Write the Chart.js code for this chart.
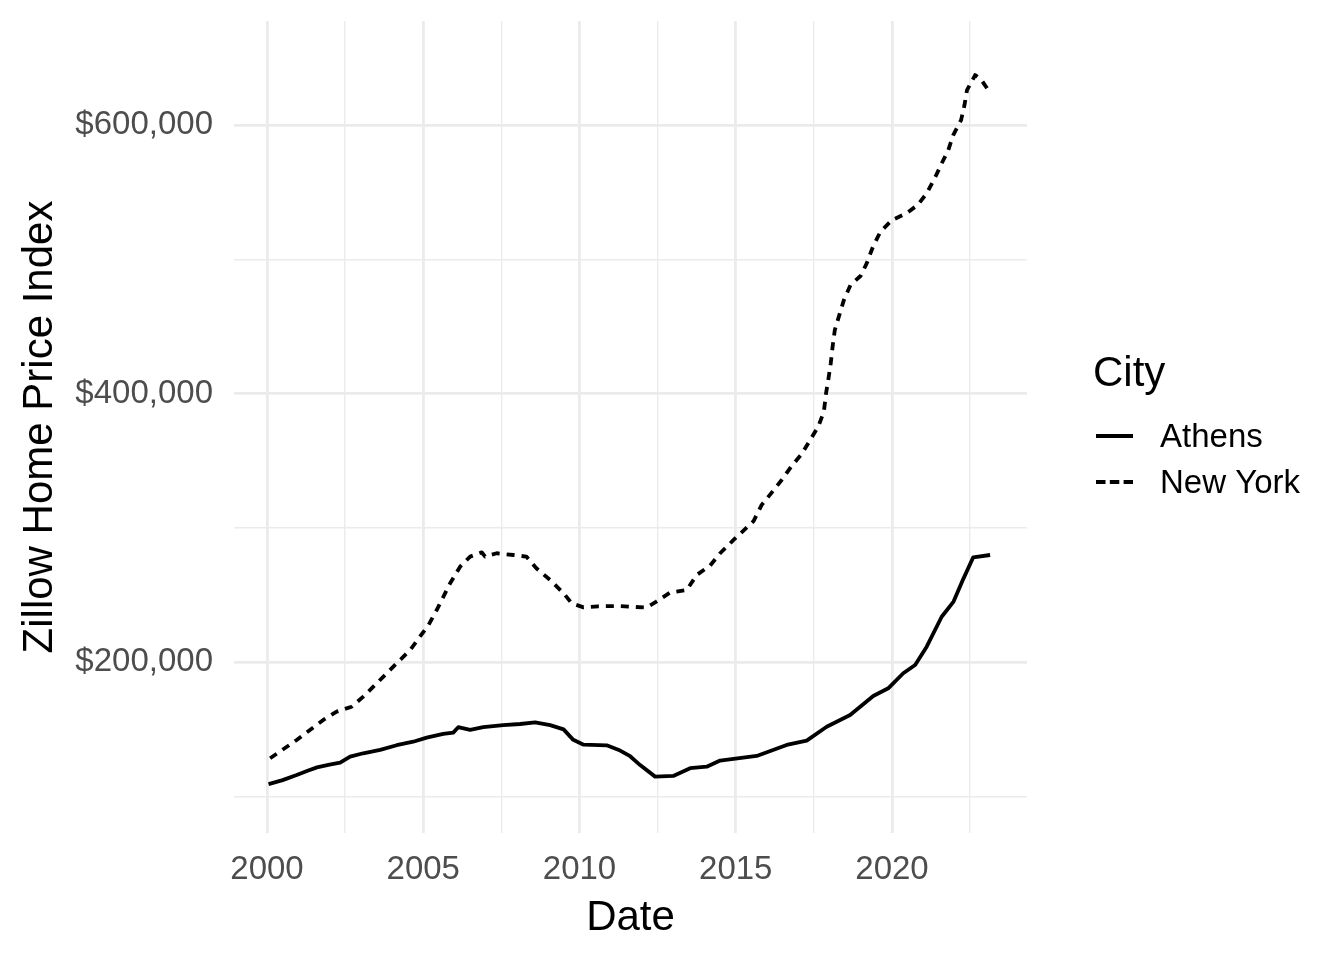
<!DOCTYPE html>
<html>
<head>
<meta charset="utf-8">
<title>Zillow Home Price Index</title>
<script src="https://cdn.jsdelivr.net/npm/chart.js@4.4.1/dist/chart.umd.min.js"></script>
<style>
  html, body { margin: 0; padding: 0; background: #fff; }
  #wrap { width: 1344px; height: 960px; }
</style>
</head>
<body>
<div id="wrap"><canvas id="chart" width="1344" height="960"></canvas></div>
<script>
// Athens (solid line) - decimal year / ZHVI
const athensYears = [
  2000.05, 2000.5, 2000.95, 2001.3, 2001.6, 2002.0, 2002.34, 2002.66, 2003.08, 2003.62,
  2004.15, 2004.68, 2005.11, 2005.64, 2005.96, 2006.12, 2006.5, 2006.92, 2007.56, 2008.1,
  2008.58, 2009.06, 2009.49, 2009.8, 2010.13, 2010.87, 2011.3, 2011.62, 2011.94, 2012.42,
  2013.0, 2013.54, 2014.07, 2014.5, 2015.67, 2016.63, 2017.27, 2017.91, 2018.66, 2019.4,
  2019.88, 2020.36, 2020.74, 2021.11, 2021.59, 2021.97, 2022.29, 2022.6, 2023.14
];
const athensValues = [
  109000, 112000, 115800, 119000, 121500, 123500, 125000, 129500, 132000, 134500,
  138000, 140600, 143600, 146400, 147400, 151400, 149400, 151400, 153000, 153800,
  155000, 153000, 149800, 142000, 138400, 137900, 134000, 129800, 123200, 114600,
  115100, 120900, 122000, 126600, 130000, 138200, 141400, 151800, 160500, 174700,
  180400, 191600, 197800, 211400, 233700, 245000, 262300, 278000, 279700
];

// New York (dashed line)
const nyYears = [
  2000.1, 2000.95, 2001.8, 2002.23, 2002.71, 2003.08, 2003.51, 2004.15, 2004.58, 2005.17,
  2005.43, 2005.86, 2006.18, 2006.5, 2006.87, 2006.98, 2007.35, 2007.88, 2008.3, 2008.62,
  2009.06, 2009.49, 2009.75, 2010.13, 2010.6, 2011.19, 2011.62, 2012.14, 2012.46, 2012.9,
  2013.43, 2013.75, 2014.18, 2014.5, 2014.93, 2015.19, 2015.57, 2015.83, 2016.15, 2016.47,
  2016.79, 2017.11, 2017.38, 2017.64, 2017.82, 2017.89, 2017.96, 2018.04, 2018.1, 2018.17,
  2018.33, 2018.46, 2018.67, 2019.0, 2019.19, 2019.39, 2019.63, 2020.0, 2020.46, 2020.82,
  2021.11, 2021.39, 2021.59, 2021.8, 2021.96, 2022.21, 2022.32, 2022.4, 2022.66, 2022.85,
  2023.14
];
const nyValues = [
  128300, 141900, 156800, 163000, 166700, 174200, 184100, 199000, 208900, 227600,
  238700, 258600, 271000, 278500, 281700, 278500, 281000, 279700, 278500, 269800,
  261100, 251200, 243700, 240700, 241500, 241700, 241200, 240500, 245000, 251700,
  253600, 264800, 271800, 281000, 290900, 296600, 305000, 317000, 326200, 335600,
  346000, 354900, 365400, 375300, 386500, 400200, 410000, 422600, 435000, 447300,
  459700, 469600, 480800, 487700, 496900, 509300, 520500, 529200, 534200, 540400,
  549100, 561500, 571400, 581300, 592500, 603700, 614900, 626000, 637200, 634000,
  624000
];

const xTicks = [2000, 2002.5, 2005, 2007.5, 2010, 2012.5, 2015, 2017.5, 2020, 2022.5];
const yTicks = [100000, 200000, 300000, 400000, 500000, 600000];

const FONT = "'Liberation Sans', Arial, Helvetica, sans-serif";
const GRID = "#EBEBEB";

Chart.defaults.font.family = FONT;

function toPoints(xs, ys) {
  return xs.map((x, i) => ({ x: x, y: ys[i] }));
}

// legend drawn at the right, like the ggplot guide
const cityLegend = {
  id: "cityLegend",
  afterDraw(chart) {
    const ctx = chart.ctx;
    ctx.save();
    ctx.fillStyle = "#000";
    ctx.textBaseline = "middle";
    ctx.font = "42px " + FONT;
    ctx.fillText("City", 1093, 374);
    ctx.font = "33px " + FONT;
    chart.data.datasets.forEach((ds, i) => {
      const y = 436 + i * 46;
      ctx.strokeStyle = ds.borderColor;
      ctx.lineWidth = 3.8;
      ctx.setLineDash(ds.legendDash);
      ctx.beginPath();
      ctx.moveTo(1096, y);
      ctx.lineTo(1133, y);
      ctx.stroke();
      ctx.fillText(ds.label, 1160, y + 2);
    });
    ctx.restore();
  },
};

const ctx = document.getElementById("chart").getContext("2d");
new Chart(ctx, {
  type: "line",
  data: {
    datasets: [
      {
        label: "Athens",
        data: toPoints(athensYears, athensValues),
        borderColor: "#000",
        borderWidth: 3.8,
        legendDash: [],
      },
      {
        label: "New York",
        data: toPoints(nyYears, nyValues),
        borderColor: "#000",
        borderWidth: 3.8,
        borderDash: [8, 7],
        legendDash: [9.5, 4.3],
      },
    ],
  },
  options: {
    responsive: false,
    animation: false,
    devicePixelRatio: 1,
    layout: { padding: { top: 21, right: 317, left: 0, bottom: 0 } },
    elements: {
      point: { radius: 0 },
      line: { tension: 0, borderJoinStyle: "round" },
    },
    plugins: {
      legend: { display: false },
      tooltip: { enabled: false },
    },
    scales: {
      x: {
        type: "linear",
        min: 1998.944,
        max: 2024.32,
        afterBuildTicks: (scale) => {
          scale.ticks = xTicks.map((v) => ({ value: v }));
        },
        afterFit: (scale) => {
          scale.height = 127;
          scale.paddingLeft = 0;
          scale.paddingRight = 0;
        },
        border: { display: false },
        grid: {
          color: GRID,
          drawTicks: false,
          lineWidth: (c) => (c.tick && c.tick.value % 5 === 0 ? 2.8 : 1.4),
        },
        ticks: {
          autoSkip: false,
          maxRotation: 0,
          padding: 17,
          color: "#4D4D4D",
          font: { size: 33 },
          callback: (v) => (v % 5 === 0 ? String(v) : ""),
        },
        title: {
          display: true,
          text: "Date",
          color: "#000",
          font: { size: 42 },
          padding: { top: 0, bottom: 16 },
        },
      },
      y: {
        type: "linear",
        min: 72600,
        max: 677500,
        afterBuildTicks: (scale) => {
          scale.ticks = yTicks.map((v) => ({ value: v }));
        },
        afterFit: (scale) => {
          scale.width = 234;
          scale.paddingTop = 0;
          scale.paddingBottom = 0;
        },
        border: { display: false },
        grid: {
          color: GRID,
          drawTicks: false,
          lineWidth: (c) => (c.tick && c.tick.value % 200000 === 0 ? 2.8 : 1.4),
        },
        ticks: {
          padding: 21,
          color: "#4D4D4D",
          font: { size: 33 },
          callback: (v) =>
            v % 200000 === 0 ? "$" + v.toLocaleString("en-US") : "",
        },
        title: {
          display: true,
          text: "Zillow Home Price Index",
          color: "#000",
          font: { size: 42 },
          padding: { top: 15, bottom: 0 },
        },
      },
    },
  },
  plugins: [cityLegend],
});
</script>
</body>
</html>
